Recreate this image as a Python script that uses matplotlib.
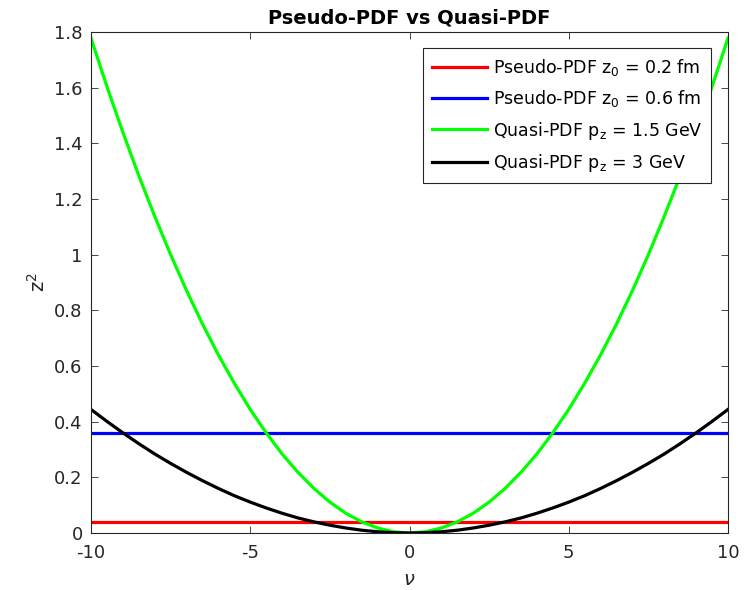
import numpy as np
import matplotlib.pyplot as plt

# nu values and z^2
nu = [-10, -9.5, -9, -8.5, -8, -7.5, -7, -6.5, -6, -5.5, -5, -4.5, -4, -3.5, -3, -2.5, -2, -1.5, -1, -0.5,
      0, 0.5, 1, 1.5, 2, 2.5, 3, 3.5, 4, 4.5, 5, 5.5, 6, 6.5, 7, 7.5, 8, 8.5, 9, 9.5, 10]
pseudo_02 = [0.04] * len(nu)
pseudo_06 = [0.36] * len(nu)
quasi_15 = [1.778, 1.604, 1.44, 1.284, 1.138, 1.0, 0.871, 0.751, 0.64, 0.538, 0.444, 0.36, 0.284,
            0.218, 0.16, 0.111, 0.071, 0.04, 0.018, 0.0044, 0.0,
            0.0044, 0.018, 0.04, 0.071, 0.111, 0.16, 0.218, 0.284, 0.36, 0.444, 0.538, 0.64,
            0.751, 0.871, 1.0, 1.138, 1.284, 1.44, 1.604, 1.778]
quasi_3 = [0.444, 0.401, 0.36, 0.321, 0.284, 0.25, 0.218, 0.188, 0.16, 0.134, 0.111, 0.09, 0.071,
           0.054, 0.04, 0.028, 0.018, 0.01, 0.0044, 0.0011, 0.0,
           0.0011, 0.0044, 0.01, 0.018, 0.028, 0.04, 0.054, 0.071, 0.09, 0.111, 0.134, 0.16,
           0.188, 0.218, 0.25, 0.284, 0.321, 0.36, 0.401, 0.444]

labels = [r'Pseudo-PDF z$_\mathrm{0}$ = 0.2 fm', r'Pseudo-PDF z$_\mathrm{0}$ = 0.6 fm',
          r'Quasi-PDF p$_\mathrm{z}$ = 1.5 GeV', r'Quasi-PDF p$_\mathrm{z}$ = 3 GeV']
colors = ['#ff0000', '#0000ff', '#00ff00', '#000000']

plt.rcParams['font.family'] = 'DejaVu Sans'
plt.rcParams['mathtext.fontset'] = 'dejavusans'
plt.rcParams['axes.unicode_minus'] = False

fig = plt.figure(figsize=(7.48, 5.9), dpi=100)
ax = fig.add_axes([91 / 748, 1 - 533 / 590, (728 - 91) / 748, (533 - 32) / 590])

series = [pseudo_02, pseudo_06, quasi_15, quasi_3]
for vals, lab, col in zip(series, labels, colors):
    ax.plot(nu, vals, color=col, lw=2.3, label=lab, solid_joinstyle='round')

ax.set_xlim(-10, 10)
ax.set_ylim(0, 1.8)
ax.set_xticks([-10, -5, 0, 5, 10])
ax.set_yticks(np.arange(0, 1.81, 0.2))
ax.set_yticklabels(['0', '0.2', '0.4', '0.6', '0.8', '1', '1.2', '1.4', '1.6', '1.8'])
ax.tick_params(direction='in', top=True, right=True, length=5, width=0.6,
               labelsize=13, colors='#262626', pad=6)
ax.tick_params(axis='x', pad=8)
for s in ax.spines.values():
    s.set_linewidth(0.8)
    s.set_color('#262626')

ax.set_title('Pseudo-PDF vs Quasi-PDF', fontsize=14, fontweight='bold', pad=6)
ax.set_xlabel(r'$\nu$', fontsize=14, color='#262626', labelpad=6)
ax.set_ylabel(r'z$^\mathrm{2}$', fontsize=14, color='#262626', labelpad=4)

leg = ax.legend(loc='upper right', bbox_to_anchor=(0.973, 0.968), fontsize=12.5,
                fancybox=False, framealpha=1, edgecolor='#262626',
                handlelength=3.2, handletextpad=0.3, borderpad=0.5, labelspacing=0.6,
                borderaxespad=0)
leg.get_frame().set_linewidth(0.8)

fig.savefig('out.png', dpi=100)
